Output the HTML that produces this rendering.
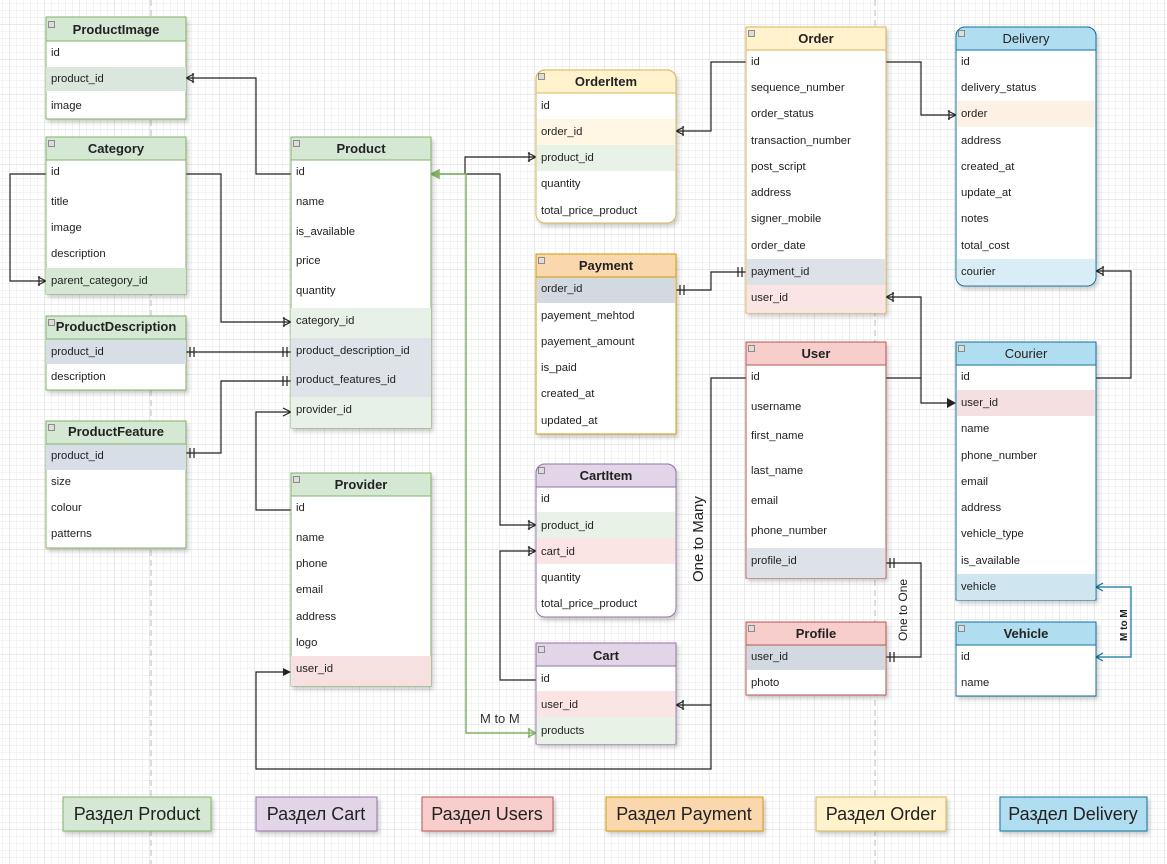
<!DOCTYPE html>
<html><head><meta charset="utf-8"><style>
html,body{margin:0;padding:0;background:#fff;}
svg{display:block;font-family:"Liberation Sans",sans-serif;}
.r{font-size:11.3px;fill:#222;}
.h{font-size:13px;font-weight:bold;fill:#222;text-anchor:middle;}
.l{fill:none;stroke:#222;stroke-width:1.2;}
</style></head><body>
<svg width="1167" height="864" viewBox="0 0 1167 864" xmlns="http://www.w3.org/2000/svg">
<defs>
<pattern id="g1" width="7" height="7" patternUnits="userSpaceOnUse" x="3" y="4"><path d="M7 0V7M0 7H7" fill="none" stroke="#e8e8e8" stroke-width="1"/></pattern>
<pattern id="g2" width="35" height="35" patternUnits="userSpaceOnUse" x="10" y="25"><path d="M35 0V35M0 35H35" fill="none" stroke="#d4d4d4" stroke-width="1"/></pattern>
<filter id="sh" x="-10%" y="-10%" width="130%" height="130%"><feDropShadow dx="2" dy="3" stdDeviation="2" flood-color="#000" flood-opacity="0.2"/></filter>
</defs>
<rect width="1167" height="864" fill="url(#g1)"/>
<rect width="1167" height="864" fill="url(#g2)"/>
<line x1="151" y1="0" x2="151" y2="864" stroke="#bbb" stroke-dasharray="6,4"/>
<line x1="875" y1="0" x2="875" y2="864" stroke="#bbb" stroke-dasharray="6,4"/>

<g class="l">
<path d="M291 174H256V78H186"/>
<path d="M186 174H221V322H291"/>
<path d="M46 174H10V281H46"/>
<path d="M186 352H291"/>
<path d="M186 453H221V381H291"/>
<path d="M291 510H256V412H291"/>
<path d="M746 378H711V769H256V672H285"/>
<path d="M676 705H711"/>
<path d="M431 174H500V525H536"/>
<path d="M465 174V157H536"/>
<path d="M536 680H500V551H536"/>
<path d="M746 62H711V131H676"/>
<path d="M676 290H711V272H746"/>
<path d="M886 62H921V115H956"/>
<path d="M886 297H921V403H950"/>
<path d="M886 378H921"/>
<path d="M1096 378H1131V271H1096"/>
<path d="M886 563H921V657H886"/>
</g>
<path d="M431 174H466V733H536" fill="none" stroke="#82b366" stroke-width="1.5"/>
<path d="M1096 587H1131V657H1096" fill="none" stroke="#10739e" stroke-width="1.2"/>
<g stroke="#222" stroke-width="1.2" fill="none">
<path d="M186 78l8 -4M186 78l8 4M193 73v10"/>
<path d="M291 322l-8 -4M291 322l-8 4M284 317v10"/>
<path d="M46 281l-8 -4M46 281l-8 4M39 276v10"/>
<path d="M190 347v10M194 347v10M283 347v10M287 347v10"/>
<path d="M190 448v10M194 448v10M283 376v10M287 376v10"/>
<path d="M291 412l-8 -4M291 412l-8 4"/>
<path d="M536 157l-8 -4M536 157l-8 4M529 152v10"/>
<path d="M536 525l-8 -4M536 525l-8 4M529 520v10"/>
<path d="M536 551l-8 -4M536 551l-8 4M529 546v10"/>
<path d="M676 131l8 -4M676 131l8 4M683 126v10"/>
<path d="M676 705l8 -4M676 705l8 4M683 700v10"/>
<path d="M680 285v10M684 285v10M738 267v10M742 267v10"/>
<path d="M956 115l-8 -4M956 115l-8 4M949 110v10"/>
<path d="M886 297l8 -4M886 297l8 4M893 292v10"/>
<path d="M1096 271l8 -4M1096 271l8 4M1103 266v10"/>
<path d="M890 558v10M894 558v10M890 652v10M894 652v10"/>
</g>
<path d="M291 672l-8 -4v8z" fill="#222"/>
<path d="M956 403l-9 -5v10z" fill="#222"/>
<g stroke="#82b366" stroke-width="1.5" fill="none"><path d="M431 174l8 -4v8z" fill="#82b366"/><path d="M536 733l-8 -4M536 733l-8 4M529 728v10"/></g>
<g stroke="#10739e" stroke-width="1.2" fill="none"><path d="M1096 587l7 -4M1096 587l7 4"/><path d="M1096 657l7 -4M1096 657l7 4"/></g>
<text x="480" y="723" style="font-size:13px;fill:#333">M to M</text>
<text transform="translate(703,582) rotate(-90)" style="font-size:15px;fill:#222">One to Many</text>
<text transform="translate(907,641) rotate(-90)" style="font-size:12px;fill:#222">One to One</text>
<text transform="translate(1127,641) rotate(-90)" style="font-size:10px;fill:#222;font-weight:bold">M to M</text>

<g filter="url(#sh)">
<rect x="46" y="17" width="140" height="102" fill="#fff" stroke="#82b366"/>
<rect x="46" y="67" width="140" height="24" fill="#dbe6dc"/>
<rect x="46" y="17" width="140" height="24" fill="#d5e8d4" stroke="#82b366"/>
<rect x="46" y="137" width="140" height="157" fill="#fff" stroke="#82b366"/>
<rect x="46" y="268" width="140" height="26" fill="#d5e8d4"/>
<rect x="46" y="137" width="140" height="23" fill="#d5e8d4" stroke="#82b366"/>
<rect x="46" y="316" width="140" height="74" fill="#fff" stroke="#82b366"/>
<rect x="46" y="339" width="140" height="25" fill="#d7dee5"/>
<rect x="46" y="316" width="140" height="23" fill="#d5e8d4" stroke="#82b366"/>
<rect x="46" y="421" width="140" height="127" fill="#fff" stroke="#82b366"/>
<rect x="46" y="444" width="140" height="26" fill="#d7dee5"/>
<rect x="46" y="421" width="140" height="23" fill="#d5e8d4" stroke="#82b366"/>
<rect x="291" y="137" width="140" height="291" fill="#fff" stroke="#82b366"/>
<rect x="291" y="308" width="140" height="30" fill="#e8f1e7"/>
<rect x="291" y="338" width="140" height="59" fill="#dde3e9"/>
<rect x="291" y="397" width="140" height="31" fill="#e8f1e7"/>
<rect x="291" y="137" width="140" height="23" fill="#d5e8d4" stroke="#82b366"/>
<rect x="291" y="473" width="140" height="213" fill="#fff" stroke="#82b366"/>
<rect x="291" y="656" width="140" height="30" fill="#f6e1e0"/>
<rect x="291" y="473" width="140" height="23" fill="#d5e8d4" stroke="#82b366"/>
<rect x="536" y="70" width="140" height="153" rx="9" fill="#fff" stroke="#d6b656"/>
<rect x="537" y="119" width="138" height="26" fill="#fff7e4"/>
<rect x="537" y="145" width="138" height="26" fill="#e9f2e7"/>
<path d="M536 93V79a9 9 0 0 1 9 -9H667a9 9 0 0 1 9 9V93Z" fill="#fff2cc" stroke="#d6b656"/>
<rect x="536" y="254" width="140" height="180" fill="#fff" stroke="#d79b00"/>
<rect x="537" y="277" width="138" height="26" fill="#d2d9e0"/>
<rect x="536" y="254" width="140" height="23" fill="#fad7ac" stroke="#d79b00"/>
<rect x="536" y="464" width="140" height="153" rx="9" fill="#fff" stroke="#9673a6"/>
<rect x="537" y="512" width="138" height="26" fill="#e9f2e7"/>
<rect x="537" y="538" width="138" height="26" fill="#fbe5e4"/>
<path d="M536 487V473a9 9 0 0 1 9 -9H667a9 9 0 0 1 9 9V487Z" fill="#e1d5e7" stroke="#9673a6"/>
<rect x="536" y="643" width="140" height="101" fill="#fff" stroke="#9673a6"/>
<rect x="537" y="691" width="138" height="26" fill="#fbe5e4"/>
<rect x="537" y="717" width="138" height="27" fill="#e9f2e7"/>
<rect x="536" y="643" width="140" height="23" fill="#e1d5e7" stroke="#9673a6"/>
<rect x="746" y="27" width="140" height="286" fill="#fff" stroke="#d6b656"/>
<rect x="747" y="259" width="138" height="26" fill="#dce2e8"/>
<rect x="747" y="285" width="138" height="28" fill="#fbe5e4"/>
<rect x="746" y="27" width="140" height="23" fill="#fff2cc" stroke="#d6b656"/>
<rect x="746" y="342" width="140" height="236" fill="#fff" stroke="#b85450"/>
<rect x="747" y="548" width="138" height="30" fill="#dce2e8"/>
<rect x="746" y="342" width="140" height="23" fill="#f8cecc" stroke="#b85450"/>
<rect x="746" y="622" width="140" height="73" fill="#fff" stroke="#b85450"/>
<rect x="747" y="645" width="138" height="25" fill="#d2d9e0"/>
<rect x="746" y="622" width="140" height="23" fill="#f8cecc" stroke="#b85450"/>
<rect x="956" y="27" width="140" height="259" rx="9" fill="#fff" stroke="#10739e"/>
<rect x="957" y="101" width="138" height="26" fill="#fdf0e4"/>
<path d="M957 259H1095V277a8 8 0 0 1 -8 8H965a8 8 0 0 1 -8 -8Z" fill="#d8edf5"/>
<path d="M956 50V36a9 9 0 0 1 9 -9H1087a9 9 0 0 1 9 9V50Z" fill="#b1ddf0" stroke="#10739e"/>
<rect x="956" y="342" width="140" height="258" fill="#fff" stroke="#10739e"/>
<rect x="957" y="390" width="138" height="26" fill="#f6dfe0"/>
<rect x="957" y="574" width="138" height="26" fill="#cfe6f0"/>
<rect x="956" y="342" width="140" height="23" fill="#b1ddf0" stroke="#10739e"/>
<rect x="956" y="622" width="140" height="74" fill="#fff" stroke="#10739e"/>
<rect x="956" y="622" width="140" height="23" fill="#b1ddf0" stroke="#10739e"/>
</g>
<g fill="#ddd" stroke="#777" stroke-width="0.8">
<rect x="48.5" y="21.5" width="6" height="6"/><rect x="48.5" y="140.5" width="6" height="6"/><rect x="48.5" y="319.5" width="6" height="6"/><rect x="48.5" y="424.5" width="6" height="6"/>
<rect x="293.5" y="140.5" width="6" height="6"/><rect x="293.5" y="476.5" width="6" height="6"/>
<rect x="538.5" y="73.5" width="6" height="6"/><rect x="538.5" y="257.5" width="6" height="6"/><rect x="538.5" y="467.5" width="6" height="6"/><rect x="538.5" y="646.5" width="6" height="6"/>
<rect x="748.5" y="30.5" width="6" height="6"/><rect x="748.5" y="345.5" width="6" height="6"/><rect x="748.5" y="625.5" width="6" height="6"/>
<rect x="958.5" y="30.5" width="6" height="6"/><rect x="958.5" y="345.5" width="6" height="6"/><rect x="958.5" y="625.5" width="6" height="6"/>
</g>
<text class="h" x="116" y="34">ProductImage</text>
<text class="h" x="116" y="153">Category</text>
<text class="h" x="116" y="331">ProductDescription</text>
<text class="h" x="116" y="436">ProductFeature</text>
<text class="h" x="361" y="153">Product</text>
<text class="h" x="361" y="489">Provider</text>
<text class="h" x="606" y="86">OrderItem</text>
<text class="h" x="606" y="270">Payment</text>
<text class="h" x="606" y="480">CartItem</text>
<text class="h" x="606" y="660">Cart</text>
<text class="h" x="816" y="43">Order</text>
<text class="h" x="816" y="358">User</text>
<text class="h" x="816" y="638">Profile</text>
<text class="h" x="1026" y="43" style="font-weight:normal">Delivery</text>
<text class="h" x="1026" y="358" style="font-weight:normal">Courier</text>
<text class="h" x="1026" y="638">Vehicle</text>
<g class="r">
<text x="51" y="56">id</text><text x="51" y="82">product_id</text><text x="51" y="109">image</text>
<text x="51" y="175">id</text><text x="51" y="205">title</text><text x="51" y="231">image</text><text x="51" y="257">description</text><text x="51" y="284">parent_category_id</text>
<text x="51" y="355">product_id</text><text x="51" y="380">description</text>
<text x="51" y="459">product_id</text><text x="51" y="485">size</text><text x="51" y="511">colour</text><text x="51" y="537">patterns</text>
<text x="296" y="175">id</text><text x="296" y="205">name</text><text x="296" y="235">is_available</text><text x="296" y="264">price</text><text x="296" y="294">quantity</text><text x="296" y="324">category_id</text><text x="296" y="354">product_description_id</text><text x="296" y="383">product_features_id</text><text x="296" y="413">provider_id</text>
<text x="296" y="511">id</text><text x="296" y="541">name</text><text x="296" y="567">phone</text><text x="296" y="593">email</text><text x="296" y="620">address</text><text x="296" y="646">logo</text><text x="296" y="672">user_id</text>
<text x="541" y="109">id</text><text x="541" y="135">order_id</text><text x="541" y="161">product_id</text><text x="541" y="187">quantity</text><text x="541" y="214">total_price_product</text>
<text x="541" y="292">order_id</text><text x="541" y="319">payement_mehtod</text><text x="541" y="345">payement_amount</text><text x="541" y="371">is_paid</text><text x="541" y="397">created_at</text><text x="541" y="424">updated_at</text>
<text x="541" y="502">id</text><text x="541" y="529">product_id</text><text x="541" y="555">cart_id</text><text x="541" y="581">quantity</text><text x="541" y="607">total_price_product</text>
<text x="541" y="682">id</text><text x="541" y="708">user_id</text><text x="541" y="734">products</text>
<text x="751" y="65">id</text><text x="751" y="91">sequence_number</text><text x="751" y="117">order_status</text><text x="751" y="144">transaction_number</text><text x="751" y="170">post_script</text><text x="751" y="196">address</text><text x="751" y="222">signer_mobile</text><text x="751" y="249">order_date</text><text x="751" y="275">payment_id</text><text x="751" y="301">user_id</text>
<text x="751" y="380">id</text><text x="751" y="410">username</text><text x="751" y="439">first_name</text><text x="751" y="474">last_name</text><text x="751" y="504">email</text><text x="751" y="534">phone_number</text><text x="751" y="564">profile_id</text>
<text x="751" y="660">user_id</text><text x="751" y="686">photo</text>
<text x="961" y="65">id</text><text x="961" y="91">delivery_status</text><text x="961" y="117">order</text><text x="961" y="144">address</text><text x="961" y="170">created_at</text><text x="961" y="196">update_at</text><text x="961" y="222">notes</text><text x="961" y="249">total_cost</text><text x="961" y="275">courier</text>
<text x="961" y="380">id</text><text x="961" y="406">user_id</text><text x="961" y="432">name</text><text x="961" y="459">phone_number</text><text x="961" y="485">email</text><text x="961" y="511">address</text><text x="961" y="537">vehicle_type</text><text x="961" y="564">is_available</text><text x="961" y="590">vehicle</text>
<text x="961" y="660">id</text><text x="961" y="686">name</text>
</g>
<g filter="url(#sh)">
<rect x="63" y="797" width="148" height="34" fill="#d5e8d4" stroke="#82b366"/>
<rect x="256" y="797" width="121" height="34" fill="#e1d5e7" stroke="#9673a6"/>
<rect x="422" y="797" width="131" height="34" fill="#f8cecc" stroke="#b85450"/>
<rect x="606" y="797" width="157" height="34" fill="#fad7ac" stroke="#d79b00"/>
<rect x="816" y="797" width="130" height="34" fill="#fff2cc" stroke="#d6b656"/>
<rect x="1000" y="797" width="147" height="34" fill="#b1ddf0" stroke="#10739e"/>
</g>
<g style="font-size:18px;fill:#222" text-anchor="middle">
<text x="137" y="820">Раздел Product</text>
<text x="316" y="820">Раздел Cart</text>
<text x="487" y="820">Раздел Users</text>
<text x="684" y="820">Раздел Payment</text>
<text x="881" y="820">Раздел Order</text>
<text x="1073" y="820">Раздел Delivery</text>
</g>
</svg>
</body></html>
